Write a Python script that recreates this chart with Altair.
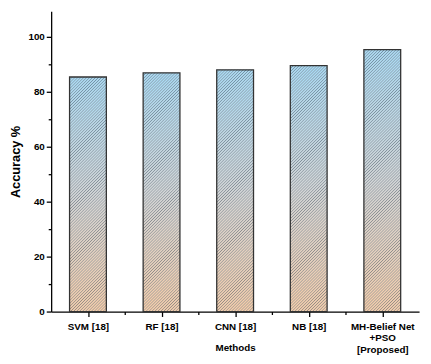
import json
import altair as alt
import pandas as pd

# ---- data ----
methods = ["SVM [18]", "RF  [18]", "CNN [18]", "NB [18]", "MH-Belief Net|+PSO|[Proposed]"]
accuracy = [85.4, 86.9, 88.0, 89.5, 95.4]
y_tick_values = [0, 10, 20, 30, 40, 50, 60, 70, 80, 90, 100]
x_tick_values = [0, 0.5, 1, 1.5, 2, 2.5, 3, 3.5, 4]

# ---- layout / style ----
W, H = 375, 306
Y_MAX = 109.3
BAR_FRAC = 0.5
FONT = "Liberation Sans"
STRIPE_PERIOD = 3.0      # px, along x+y
SEG_PX = 30.0            # hatch drawn in short pieces so the stripes stay crisp
DARK = "rgba(70,85,100,0.55)"
CLEAR = "rgba(255,255,255,0)"

df = pd.DataFrame({"method": methods, "acc": accuracy, "idx": list(range(len(methods)))})
df["x0"] = df["idx"] - BAR_FRAC / 2
df["x1"] = df["idx"] + BAR_FRAC / 2
df["zero"] = 0.0

names_js = json.dumps(methods)
x_label_expr = f"datum.value % 1 === 0 ? split({names_js}[datum.value], '|') : ''"

x_scale = alt.Scale(domain=[-0.5, len(methods) - 0.5], nice=False, zero=False)
y_scale = alt.Scale(domain=[0, Y_MAX], nice=False, zero=True)

x_axis = alt.Axis(
    values=x_tick_values,
    labelExpr=x_label_expr,
    labelOverlap=False,
    labelFlush=False,
    labelFont=FONT, labelFontSize=10, labelFontWeight="bold", labelColor="black",
    labelPadding=5, labelLineHeight=12, labelBaseline="top",
    tickSize={"condition": {"test": "datum.value % 1 === 0", "value": 5}, "value": 3},
    tickColor="black", tickWidth=1.3,
    domainColor="black", domainWidth=1.3,
    grid=False,
    title="Methods", titleFont=FONT, titleFontSize=10, titleFontWeight="bold",
    titleColor="black", titleY=37, titleBaseline="middle",
)
y_axis = alt.Axis(
    values=y_tick_values,
    labelExpr="datum.value % 20 === 0 ? datum.label : ''",
    labelFont=FONT, labelFontSize=10, labelFontWeight="bold", labelColor="black",
    labelPadding=2,
    tickSize={"condition": {"test": "datum.value % 20 === 0", "value": 5}, "value": 3},
    tickColor="black", tickWidth=1.3,
    domainColor="black", domainWidth=1.3,
    grid=False,
    title="Accuracy %", titleFont=FONT, titleFontSize=13, titleFontWeight="bold",
    titleColor="black", titleX=-36, titleBaseline="middle",
)


def enc(chart, ytop, ybot):
    return chart.encode(
        x=alt.X("x0:Q", scale=x_scale, axis=x_axis),
        x2=alt.X2("x1:Q"),
        y=alt.Y(f"{ytop}:Q", scale=y_scale, axis=y_axis),
        y2=alt.Y2(f"{ybot}:Q"),
    )


base_gradient = alt.Gradient(
    gradient="linear",
    stops=[
        alt.GradientStop(color="#a6daf5", offset=0),
        alt.GradientStop(color="#d2d5d6", offset=0.5),
        alt.GradientStop(color="#f7cba4", offset=1),
    ],
    x1=0, x2=0, y1=0, y2=1,
)

bar_w = BAR_FRAC * W / len(methods)


def stripe_gradient(seg_h):
    # soft (triangular) stripes running "/" at 45 degrees in screen space
    L = bar_w + seg_h
    m = L / (bar_w ** 2 + seg_h ** 2)
    a, b = bar_w * m, seg_h * m
    stops = []
    k = 0
    while k * STRIPE_PERIOD < L - 1e-9:
        stops.append(alt.GradientStop(color=DARK, offset=min(1.0, k * STRIPE_PERIOD / L)))
        stops.append(alt.GradientStop(color=CLEAR, offset=min(1.0, (k + 0.5) * STRIPE_PERIOD / L)))
        k += 1
    stops.append(alt.GradientStop(color=DARK, offset=1.0))
    return alt.Gradient(gradient="linear", stops=stops, x1=0, y1=0, x2=a, y2=b)


# hatch pieces, cut from the top of each bar downwards
seg_units = SEG_PX / H * Y_MAX
full_rows, part_rows = [], []
for i, v in enumerate(accuracy):
    top = v
    while top > 1e-9:
        bot = top - seg_units
        row = {"idx": i, "x0": i - BAR_FRAC / 2, "x1": i + BAR_FRAC / 2, "top": top, "bot": max(bot, 0.0)}
        (full_rows if bot >= -1e-9 else part_rows).append(row)
        top = bot

layers = [enc(alt.Chart(df).mark_rect(fill=base_gradient, strokeWidth=0), "acc", "zero")]
layers.append(
    enc(alt.Chart(pd.DataFrame(full_rows)).mark_rect(fill=stripe_gradient(SEG_PX), strokeWidth=0), "top", "bot")
)
for row in part_rows:
    seg_h = (row["top"] - row["bot"]) / Y_MAX * H
    layers.append(
        enc(alt.Chart(pd.DataFrame([row])).mark_rect(fill=stripe_gradient(seg_h), strokeWidth=0), "top", "bot")
    )
layers.append(
    enc(alt.Chart(df).mark_rect(fillOpacity=0, stroke="#333333", strokeWidth=1.3), "acc", "zero")
)

chart = (
    alt.layer(*layers)
    .properties(
        width=W,
        height=H,
        padding={"left": 44, "top": 0, "right": 4, "bottom": 48},
        autosize=alt.AutoSizeParams(type="none"),
        background="white",
    )
    .configure_view(stroke=None)
)

chart.save("out.html", embed_options={"renderer": "svg", "actions": False})
